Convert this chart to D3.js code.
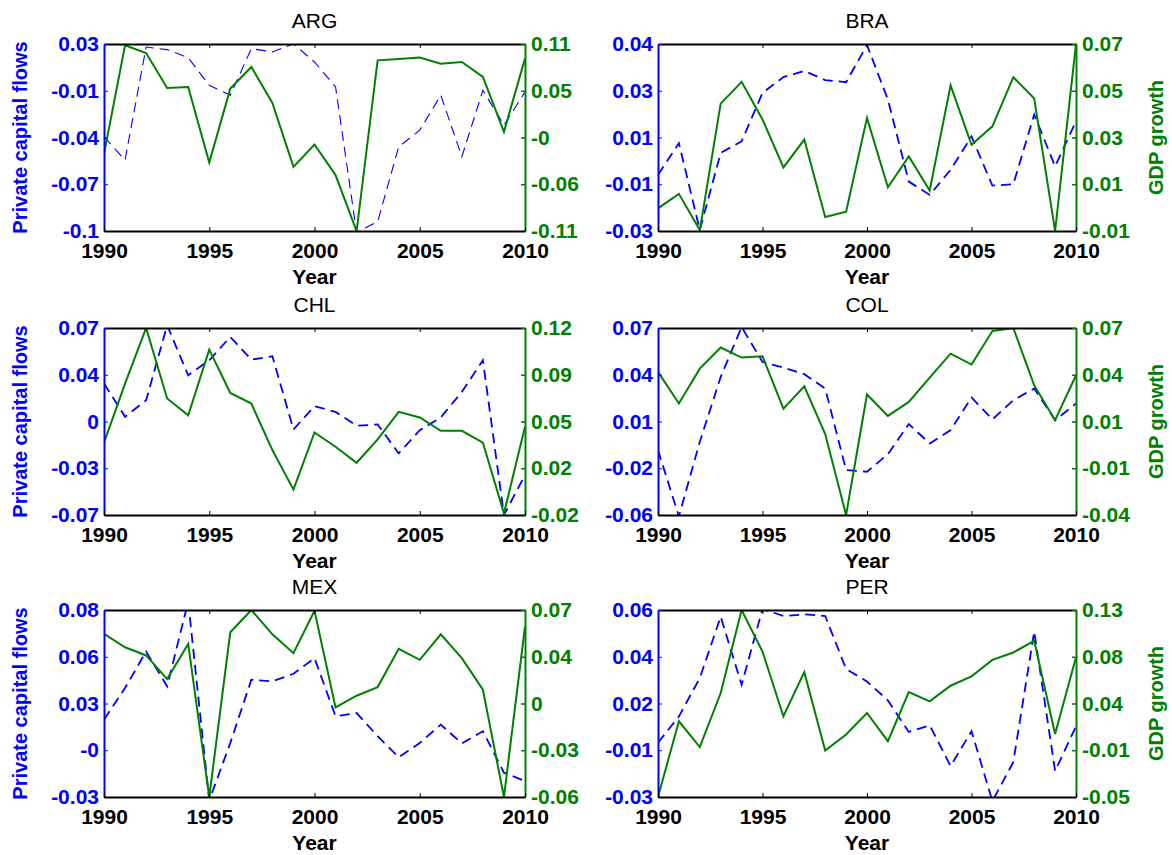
<!DOCTYPE html>
<html>
<head>
<meta charset="utf-8">
<script src="https://cdn.jsdelivr.net/npm/d3@7"></script>
<style>
  body { margin: 0; background: #fff; }
  svg text { font-family: "Liberation Sans", Arial, Helvetica, sans-serif; }
</style>
</head>
<body>
<div id="chart"></div>
<script>
var years = [1990, 1991, 1992, 1993, 1994, 1995, 1996, 1997, 1998, 1999, 2000,
             2001, 2002, 2003, 2004, 2005, 2006, 2007, 2008, 2009, 2010];
var yearTicks = [1990, 1995, 2000, 2005, 2010];

// private capital flows (blue, left axis) and GDP growth (green, right axis)
var flowsARG = [-0.0345, -0.0507, 0.0279, 0.0261, 0.0205, 0.0013, -0.0056, 0.0268, 0.0245, 0.0300, 0.0175,
                0.0002, -0.1010, -0.0935, -0.0415, -0.0299, -0.0056, -0.0484, -0.0022, -0.0264, -0.0033];
var gdpARG = [-0.0196, 0.1084, 0.0994, 0.0583, 0.0595, -0.0294, 0.0575, 0.0830, 0.0407, -0.0345, -0.0082,
              -0.0442, -0.1100, 0.0908, 0.0924, 0.0940, 0.0869, 0.0889, 0.0712, 0.0067, 0.0928];

var flowsBRA = [-0.0090, 0.0029, -0.0296, -0.0008, 0.0036, 0.0217, 0.0276, 0.0299, 0.0265, 0.0257, 0.0396,
                0.0192, -0.0115, -0.0165, -0.0071, 0.0054, -0.0130, -0.0125, 0.0136, -0.0058, 0.0111];
var gdpBRA = [-0.0003, 0.0059, -0.0096, 0.0445, 0.0538, 0.0377, 0.0172, 0.0291, -0.0040, -0.0017, 0.0384,
              0.0087, 0.0219, 0.0073, 0.0523, 0.0269, 0.0348, 0.0558, 0.0467, -0.0100, 0.0700];

var flowsCHL = [0.0284, 0.0035, 0.0159, 0.0720, 0.0346, 0.0458, 0.0633, 0.0463, 0.0488, -0.0060, 0.0115,
                0.0072, -0.0032, -0.0022, -0.0239, -0.0065, 0.0030, 0.0222, 0.0458, -0.0700, -0.0401];
var gdpCHL = [0.0341, 0.0784, 0.1200, 0.0672, 0.0547, 0.1038, 0.0714, 0.0634, 0.0286, -0.0010, 0.0418,
              0.0311, 0.0191, 0.0366, 0.0572, 0.0530, 0.0430, 0.0430, 0.0341, -0.0188, 0.0460];

var flowsCOL = [-0.0149, -0.0610, -0.0091, 0.0360, 0.0707, 0.0464, 0.0425, 0.0379, 0.0279, -0.0288, -0.0299,
                -0.0177, 0.0032, -0.0103, -0.0010, 0.0217, 0.0064, 0.0198, 0.0279, 0.0059, 0.0175];
var gdpCOL = [0.0442, 0.0256, 0.0461, 0.0585, 0.0526, 0.0534, 0.0226, 0.0357, 0.0076, -0.0400, 0.0309,
              0.0183, 0.0265, 0.0408, 0.0549, 0.0485, 0.0682, 0.0700, 0.0363, 0.0158, 0.0422];

var flowsMEX = [0.0155, 0.0341, 0.0556, 0.0351, 0.0850, -0.0320, 0.0018, 0.0390, 0.0380, 0.0425, 0.0517,
                0.0175, 0.0194, 0.0058, -0.0066, 0.0018, 0.0126, 0.0015, 0.0087, -0.0157, -0.0206];
var gdpMEX = [0.0534, 0.0441, 0.0384, 0.0220, 0.0464, -0.0600, 0.0545, 0.0700, 0.0531, 0.0400, 0.0695,
              0.0023, 0.0104, 0.0164, 0.0430, 0.0354, 0.0531, 0.0365, 0.0146, -0.0600, 0.0585];

var flowsPER = [-0.0039, 0.0088, 0.0272, 0.0568, 0.0240, 0.0605, 0.0571, 0.0579, 0.0571, 0.0316, 0.0256,
                0.0165, 0.0013, 0.0045, -0.0151, 0.0017, -0.0320, -0.0132, 0.0496, -0.0175, 0.0040];
var gdpPER = [-0.0500, 0.0229, -0.0020, 0.0501, 0.1300, 0.0900, 0.0277, 0.0702, -0.0052, 0.0101, 0.0309,
              0.0037, 0.0510, 0.0421, 0.0571, 0.0661, 0.0820, 0.0891, 0.1003, 0.0107, 0.0846];

// axis limits and the (rounded) tick labels, bottom to top
var flowLimARG = [-0.1, 0.03], gdpLimARG = [-0.11, 0.11];
var flowTicksARG = ["-0.1", "-0.07", "-0.04", "-0.01", "0.03"];
var gdpTicksARG = ["-0.11", "-0.06", "-0", "0.05", "0.11"];

var flowLimBRA = [-0.03, 0.04], gdpLimBRA = [-0.01, 0.07];
var flowTicksBRA = ["-0.03", "-0.01", "0.01", "0.03", "0.04"];
var gdpTicksBRA = ["-0.01", "0.01", "0.03", "0.05", "0.07"];

var flowLimCHL = [-0.07, 0.07], gdpLimCHL = [-0.02, 0.12];
var flowTicksCHL = ["-0.07", "-0.03", "0", "0.04", "0.07"];
var gdpTicksCHL = ["-0.02", "0.02", "0.05", "0.09", "0.12"];

var flowLimCOL = [-0.06, 0.07], gdpLimCOL = [-0.04, 0.07];
var flowTicksCOL = ["-0.06", "-0.02", "0.01", "0.04", "0.07"];
var gdpTicksCOL = ["-0.04", "-0.01", "0.01", "0.04", "0.07"];

var flowLimMEX = [-0.03, 0.08], gdpLimMEX = [-0.06, 0.07];
var flowTicksMEX = ["-0.03", "-0", "0.03", "0.06", "0.08"];
var gdpTicksMEX = ["-0.06", "-0.03", "0", "0.04", "0.07"];

var flowLimPER = [-0.03, 0.06], gdpLimPER = [-0.05, 0.13];
var flowTicksPER = ["-0.03", "-0.01", "0.02", "0.04", "0.06"];
var gdpTicksPER = ["-0.05", "-0.01", "0.04", "0.08", "0.13"];

var panels = [
  {name: "ARG", flows: flowsARG, gdp: gdpARG, flowLim: flowLimARG, gdpLim: gdpLimARG, flowTicks: flowTicksARG, gdpTicks: gdpTicksARG},
  {name: "BRA", flows: flowsBRA, gdp: gdpBRA, flowLim: flowLimBRA, gdpLim: gdpLimBRA, flowTicks: flowTicksBRA, gdpTicks: gdpTicksBRA},
  {name: "CHL", flows: flowsCHL, gdp: gdpCHL, flowLim: flowLimCHL, gdpLim: gdpLimCHL, flowTicks: flowTicksCHL, gdpTicks: gdpTicksCHL},
  {name: "COL", flows: flowsCOL, gdp: gdpCOL, flowLim: flowLimCOL, gdpLim: gdpLimCOL, flowTicks: flowTicksCOL, gdpTicks: gdpTicksCOL},
  {name: "MEX", flows: flowsMEX, gdp: gdpMEX, flowLim: flowLimMEX, gdpLim: gdpLimMEX, flowTicks: flowTicksMEX, gdpTicks: gdpTicksMEX},
  {name: "PER", flows: flowsPER, gdp: gdpPER, flowLim: flowLimPER, gdpLim: gdpLimPER, flowTicks: flowTicksPER, gdpTicks: gdpTicksPER}
];

var blue = "#0000ff";
var green = "#008000";

var width = 1172, height = 855;
var colLeft = [104, 658];
var colWidth = [421, 418];
var rowTop = [44, 328, 610];
var plotH = 187;

var svg = d3.select("#chart")
  .append("svg")
  .attr("width", width)
  .attr("height", height);

// five evenly spaced tick positions between the axis limits (MATLAB plotyy style)
function evenTicks(lim) {
  return d3.range(5).map(function(k) {
    return lim[0] + k * (lim[1] - lim[0]) / 4;
  });
}

function styleAxis(g, colour, showText) {
  g.selectAll(".tick line").attr("stroke", colour).attr("stroke-width", 1);
  g.selectAll(".tick text")
    .attr("fill", colour)
    .style("font-size", "21px")
    .style("font-weight", "bold")
    .style("display", showText ? null : "none");
}

panels.forEach(function(p, i) {
  var col = i % 2, row = Math.floor(i / 2);
  var plotW = colWidth[col];

  var g = svg.append("g")
    .attr("transform", "translate(" + colLeft[col] + "," + rowTop[row] + ")");

  var x = d3.scaleLinear().domain([1990, 2010]).range([0, plotW]);
  var yL = d3.scaleLinear().domain(p.flowLim).range([plotH, 0]);
  var yR = d3.scaleLinear().domain(p.gdpLim).range([plotH, 0]);

  g.append("clipPath")
    .attr("id", "clip-" + p.name)
    .append("rect")
    .attr("width", plotW)
    .attr("height", plotH);

  var flowLine = d3.line()
    .x(function(d, k) { return x(years[k]); })
    .y(function(d) { return yL(d); });

  var gdpLine = d3.line()
    .x(function(d, k) { return x(years[k]); })
    .y(function(d) { return yR(d); });

  g.append("path")
    .datum(p.flows)
    .attr("clip-path", "url(#clip-" + p.name + ")")
    .attr("d", flowLine)
    .attr("fill", "none")
    .attr("stroke", blue)
    .attr("stroke-width", p.name === "ARG" ? 1.1 : 1.8)
    .attr("stroke-dasharray", "10,6");

  g.append("path")
    .datum(p.gdp)
    .attr("clip-path", "url(#clip-" + p.name + ")")
    .attr("d", gdpLine)
    .attr("fill", "none")
    .attr("stroke", green)
    .attr("stroke-width", 2);

  // top frame (ticks only)
  var top = g.append("g")
    .call(d3.axisTop(x).tickValues(yearTicks).tickFormat("").tickSizeInner(-4).tickSizeOuter(0));
  top.select(".domain").attr("stroke", "#000").attr("stroke-width", 2);
  styleAxis(top, "#000", false);

  // blue ticks mirrored on the right edge
  var mirror = g.append("g")
    .attr("transform", "translate(" + plotW + ",0)")
    .call(d3.axisRight(yL).tickValues(evenTicks(p.flowLim)).tickFormat("").tickSizeInner(-4).tickSizeOuter(0));
  mirror.select(".domain").attr("stroke", "none");
  styleAxis(mirror, blue, false);

  var left = g.append("g")
    .call(d3.axisLeft(yL)
      .tickValues(evenTicks(p.flowLim))
      .tickFormat(function(d, k) { return p.flowTicks[k]; })
      .tickSizeInner(-4).tickSizeOuter(0).tickPadding(5));
  left.select(".domain").attr("stroke", blue).attr("stroke-width", 2);
  styleAxis(left, blue, true);

  var right = g.append("g")
    .attr("transform", "translate(" + plotW + ",0)")
    .call(d3.axisRight(yR)
      .tickValues(evenTicks(p.gdpLim))
      .tickFormat(function(d, k) { return p.gdpTicks[k]; })
      .tickSizeInner(-4).tickSizeOuter(0).tickPadding(6));
  right.select(".domain").attr("stroke", green).attr("stroke-width", 2);
  styleAxis(right, green, true);

  var bottom = g.append("g")
    .attr("transform", "translate(0," + plotH + ")")
    .call(d3.axisBottom(x).tickValues(yearTicks).tickFormat(d3.format("d"))
      .tickSizeInner(-4).tickSizeOuter(0).tickPadding(12.5));
  bottom.select(".domain").attr("stroke", "#000").attr("stroke-width", 2);
  styleAxis(bottom, "#000", true);

  g.append("text")
    .attr("x", plotW / 2)
    .attr("y", -16)
    .attr("text-anchor", "middle")
    .style("font-size", "21px")
    .text(p.name);

  g.append("text")
    .attr("x", plotW / 2)
    .attr("y", plotH + 53)
    .attr("text-anchor", "middle")
    .style("font-size", "21px")
    .style("font-weight", "bold")
    .text("Year");

  if (col === 0) {
    svg.append("text")
      .attr("transform", "translate(27," + (rowTop[row] + plotH / 2) + ") rotate(-90)")
      .attr("text-anchor", "middle")
      .attr("fill", blue)
      .style("font-size", "20px")
      .style("font-weight", "bold")
      .text("Private capital flows");
  } else {
    svg.append("text")
      .attr("transform", "translate(1163," + (rowTop[row] + plotH / 2) + ") rotate(-90)")
      .attr("text-anchor", "middle")
      .attr("fill", green)
      .style("font-size", "20px")
      .style("font-weight", "bold")
      .text("GDP growth");
  }
});
</script>
</body>
</html>
